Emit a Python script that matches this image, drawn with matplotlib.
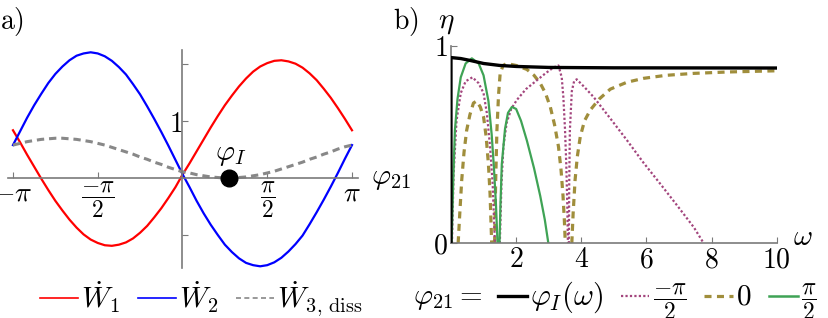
import numpy as np
import matplotlib.pyplot as plt
from matplotlib.lines import Line2D

plt.rcParams['mathtext.fontset'] = 'cm'
plt.rcParams['font.family'] = ['DejaVu Serif']

# ---- panel a: power flows vs phase (phi in units of pi, step pi/24) ----
phi_pi = np.arange(-24, 25) / 24.0
w1 = [0.84, 0.63, 0.41, 0.20, -0.01, -0.21, -0.40, -0.57, -0.73, -0.87,
      -0.99, -1.08, -1.14, -1.18, -1.19, -1.17, -1.13, -1.06, -0.96, -0.84,
      -0.69, -0.53, -0.35, -0.16, 0.06, 0.26, 0.47, 0.68, 0.89, 1.09,
      1.28, 1.45, 1.61, 1.75, 1.87, 1.96, 2.02, 2.06, 2.07, 2.05,
      2.01, 1.94, 1.84, 1.72, 1.57, 1.41, 1.23, 1.04, 0.84]
w2 = [0.58, 0.82, 1.06, 1.28, 1.48, 1.67, 1.83, 1.96, 2.07, 2.15,
      2.19, 2.21, 2.19, 2.14, 2.06, 1.95, 1.82, 1.65, 1.47, 1.26,
      1.04, 0.81, 0.57, 0.32, 0.07, -0.16, -0.40, -0.62, -0.82, -1.00,
      -1.17, -1.30, -1.41, -1.49, -1.53, -1.55, -1.53, -1.48, -1.40, -1.29,
      -1.16, -1.01, -0.81, -0.60, -0.38, -0.15, 0.09, 0.34, 0.58]
w3 = [0.58, 0.61, 0.64, 0.66, 0.68, 0.69, 0.70, 0.70, 0.69, 0.68,
      0.66, 0.64, 0.61, 0.58, 0.54, 0.50, 0.46, 0.42, 0.37, 0.33,
      0.28, 0.24, 0.19, 0.15, 0.11, 0.09, 0.06, 0.04, 0.02, 0.01,
      0.00, 0.00, 0.01, 0.02, 0.04, 0.06, 0.09, 0.12, 0.16, 0.20,
      0.24, 0.28, 0.33, 0.37, 0.42, 0.46, 0.51, 0.55, 0.58]
phi_I = 0.277  # in units of pi

# ---- panel b: efficiency vs omega ----
om_I = [0, 0, 0.3, 0.6, 1.0, 1.5, 2.0, 3.0, 5.0, 10.0]
eta_I = [0, 0.94, 0.935, 0.925, 0.91, 0.90, 0.895, 0.89, 0.888, 0.887]

om_m = [0.03, 0.08, 0.17, 0.3, 0.45, 0.66, 0.85, 1.0, 1.1, 1.2, 1.28, 1.35, np.nan,
        1.5, 1.55, 1.61, 1.71, 1.85, 2.02, 2.3, 2.6, 2.9, 3.15, 3.30, 3.40, 3.45,
        3.50, 3.54, 3.57, 3.59, np.nan,
        3.62, 3.63, 3.65, 3.71, 3.78, 3.86, 4.1, 4.38, 4.9, 5.41, 5.9, 6.43,
        6.95, 7.46, 7.76]
eta_m = [0, 0.35, 0.62, 0.76, 0.82, 0.84, 0.81, 0.76, 0.66, 0.49, 0.30, 0, np.nan,
         0, 0.30, 0.49, 0.61, 0.68, 0.725, 0.78, 0.82, 0.86, 0.89, 0.90, 0.84, 0.74,
         0.58, 0.40, 0.20, 0, np.nan,
         0, 0.30, 0.57, 0.77, 0.82, 0.83, 0.79, 0.74, 0.63, 0.52, 0.41, 0.30,
         0.19, 0.08, 0]

om_0 = [0.22, 0.27, 0.33, 0.40, 0.48, 0.58, 0.69, 0.79, 0.90, 1.0, 1.08, 1.15, 1.20,
        1.25, np.nan,
        1.34, 1.37, 1.41, 1.46, 1.51, 1.6, 1.71, 2.0, 2.33, 2.55, 2.74, 2.9, 3.05,
        3.18, 3.30, 3.38, 3.44, 3.48, 3.51, np.nan,
        3.71, 3.75, 3.81, 3.88, 3.97, 4.1, 4.28, 4.55, 4.89, 5.4, 5.92, 6.6, 7.46,
        8.5, 10.0]
eta_0 = [0, 0.15, 0.32, 0.46, 0.57, 0.65, 0.71, 0.72, 0.69, 0.64, 0.54, 0.40, 0.25,
         0, np.nan,
         0, 0.30, 0.57, 0.75, 0.86, 0.90, 0.91, 0.90, 0.88, 0.85, 0.81, 0.76, 0.69,
         0.60, 0.49, 0.37, 0.24, 0.12, 0, np.nan,
         0, 0.15, 0.32, 0.44, 0.54, 0.62, 0.675, 0.73, 0.78, 0.815, 0.835, 0.85,
         0.86, 0.867, 0.873]

om_p = [0.02, 0.07, 0.12, 0.2, 0.3, 0.45, 0.64, 0.85, 1.0, 1.15, 1.25, 1.32, 1.38,
        1.43, np.nan,
        1.49, 1.52, 1.56, 1.66, 1.75, 1.87, 2.0, 2.15, 2.33, 2.55, 2.74, 2.88, 2.99]
eta_p = [0, 0.32, 0.57, 0.73, 0.84, 0.91, 0.936, 0.91, 0.85, 0.72, 0.55, 0.38, 0.20,
         0, np.nan,
         0, 0.20, 0.40, 0.58, 0.66, 0.69, 0.68, 0.62, 0.52, 0.38, 0.24, 0.12, 0]

c_purple = '#a3457d'
c_olive = '#a08e3c'
c_green = '#3fa355'
c_gray = '#888888'
c_axis = '#7a7a7a'

fig = plt.figure(figsize=(8.29, 3.18), dpi=100)

# ---------- panel a ----------
ax = fig.add_axes([0.00965, 0.1572, 0.4222, 0.6855])
x = phi_pi * np.pi
ax.plot(x, w1, color='red', lw=1.6)
ax.plot(x, w2, color='blue', lw=1.6)
ax.plot(x, w3, color=c_gray, lw=2.2, ls=(0, (2.4, 1.6)))
ax.plot([phi_I * np.pi], [0], 'o', color='black', ms=12, zorder=5)
ax.text(phi_I * np.pi + 0.03, 0.17, r'$\varphi_I$', fontsize=21, ha='center', va='bottom')

ax.set_xlim(-3.234, 3.253)
ax.set_ylim(-1.58, 2.25)
for s in ['top', 'right']:
    ax.spines[s].set_visible(False)
ax.spines['left'].set_position('zero')
ax.spines['bottom'].set_position('zero')
for s in ['left', 'bottom']:
    ax.spines[s].set_color(c_axis)
    ax.spines[s].set_linewidth(1.2)
ax.set_xticks([-np.pi, -np.pi / 2, np.pi / 2, np.pi])
ax.set_xticklabels([r'$-\pi$', r'$\dfrac{-\pi}{2}$', r'$\dfrac{\pi}{2}$', r'$\pi$'])
ax.set_yticks([-1, 1, 2])
ax.set_yticklabels(['', r'$1$', ''])
ax.tick_params(direction='in', length=4, color=c_axis, labelsize=20, pad=1)
ax.tick_params(axis='y', pad=0)
for lab in ax.get_xticklabels()[1:3]:
    lab.set_fontsize(17)
ax.text(3.5, 0, r'$\varphi_{21}$', fontsize=21, ha='left', va='center')

handles_a = [Line2D([], [], color='red', lw=1.2),
             Line2D([], [], color='blue', lw=1.2),
             Line2D([], [], color=c_gray, lw=1.2, ls=(0, (3, 2)))]
fig.legend(handles_a, [r'$\dot{W}_1$', r'$\dot{W}_2$', r'$\dot{W}_{3,\,\mathrm{diss}}$'],
           loc='center', bbox_to_anchor=(0.243, 0.06), ncol=3, frameon=False, fontsize=21,
           handlelength=1.3, handletextpad=0.1, columnspacing=0.6, borderaxespad=0,
           borderpad=0)

# ---------- panel b ----------
bx = fig.add_axes([0.544, 0.2349, 0.3929, 0.6214])
bx.plot(om_0, eta_0, color=c_olive, lw=2.3, ls=(0, (2.2, 1.7)))
bx.plot(om_m, eta_m, color=c_purple, lw=1.6, ls=(0, (1, 1)))
bx.plot(om_p, eta_p, color=c_green, lw=1.6)
bx.plot(om_I, eta_I, color='black', lw=2.4, zorder=4)
bx.set_xlim(0, 10)
bx.set_ylim(0, 1)
for s in ['top', 'right']:
    bx.spines[s].set_visible(False)
for s in ['left', 'bottom']:
    bx.spines[s].set_color(c_axis)
    bx.spines[s].set_linewidth(1.2)
bx.set_xticks([2, 4, 6, 8, 10])
bx.set_xticklabels([r'$2$', r'$4$', r'$6$', r'$8$', r'$10$'])
bx.set_yticks([0, 1])
bx.set_yticklabels([r'$0$', r'$1$'])
bx.tick_params(direction='in', length=4, color=c_axis, labelsize=20, pad=2)
bx.text(10.5, 0.03, r'$\omega$', fontsize=21, ha='left', va='center')
bx.text(-0.4, 1.05, r'$\eta$', fontsize=21, ha='left', va='bottom')

handles_b = [Line2D([], [], color='black', lw=2.4),
             Line2D([], [], color=c_purple, lw=1.6, ls=(0, (1, 1))),
             Line2D([], [], color=c_olive, lw=2.3, ls=(0, (2.2, 1.7))),
             Line2D([], [], color=c_green, lw=1.8)]
fig.text(0.498, 0.062, r'$\varphi_{21}=$', fontsize=21, ha='left', va='center')
leg_b = fig.legend(handles_b, [r'$\varphi_I(\omega)$', r'$\dfrac{-\pi}{2}$', r'$0$',
                               r'$\dfrac{\pi}{2}$'],
                   loc='center left', bbox_to_anchor=(0.601, 0.055), ncol=4, frameon=False,
                   fontsize=17, handlelength=1.2, handletextpad=0.15, columnspacing=0.75,
                   borderaxespad=0, borderpad=0)
for t, fs in zip(leg_b.get_texts(), [22, 17, 21, 17]):
    t.set_fontsize(fs)

fig.text(0.0, 0.985, r'$\mathrm{a)}$', fontsize=20, ha='left', va='top')
fig.text(0.474, 0.985, r'$\mathrm{b)}$', fontsize=20, ha='left', va='top')

fig.savefig('out.png', dpi=100)
